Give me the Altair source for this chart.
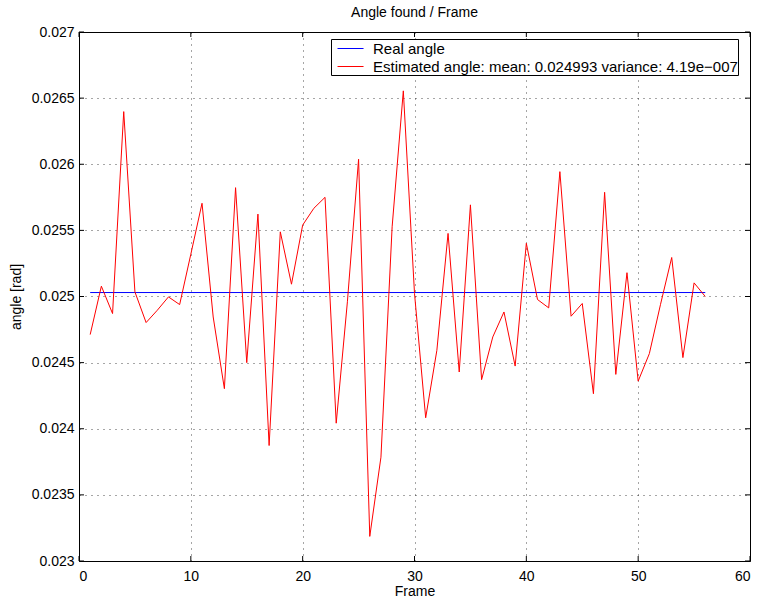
import altair as alt
import pandas as pd

# ---- data ----
frames = list(range(1, 57))
estimated = [
    0.024712, 0.025078, 0.024871, 0.026398, 0.025035, 0.024803, 0.024896, 0.024997, 0.024939, 0.025320,
    0.025705, 0.024845, 0.024303, 0.025823, 0.024500, 0.025623, 0.023873, 0.025489, 0.025093, 0.025540,
    0.025667, 0.025750, 0.024042, 0.024960, 0.026038, 0.023186, 0.023785, 0.025527, 0.026555, 0.025023,
    0.024083, 0.024593, 0.025477, 0.024429, 0.025693, 0.024371, 0.024694, 0.024883, 0.024474, 0.025402,
    0.024977, 0.024914, 0.025944, 0.024851, 0.024947, 0.024265, 0.025788, 0.024411, 0.025180, 0.024360,
    0.024568, 0.024941, 0.025295, 0.024538, 0.025103, 0.025000,
]
real_frames = [1, 56]
real_angle = [0.02503, 0.02503]

series_names = ["Real angle", "Estimated angle: mean: 0.024993 variance: 4.19e\u2212007"]
series_colors = ["#0000ff", "#ff0000"]

x_ticks = [0, 10, 20, 30, 40, 50, 60]
y_ticks = [0.023, 0.0235, 0.024, 0.0245, 0.025, 0.0255, 0.026, 0.0265, 0.027]

title_text = "Angle found / Frame"
x_title = "Frame"
y_title = "angle [rad]"

FONT = "Liberation Sans"
W, H = 671, 529

df = pd.concat([
    pd.DataFrame({"frame": real_frames, "angle": real_angle, "series": series_names[0]}),
    pd.DataFrame({"frame": frames, "angle": estimated, "series": series_names[1]}),
], ignore_index=True)

xscale = alt.Scale(domain=[x_ticks[0], x_ticks[-1]], nice=False, zero=False)
yscale = alt.Scale(domain=[y_ticks[0], y_ticks[-1]], nice=False, zero=False)
xaxis = alt.Axis(values=x_ticks, grid=True, ticks=False, domain=False,
                 labelPadding=8, titlePadding=1, format="d")
yaxis = alt.Axis(values=y_ticks, grid=True, ticks=False, domain=False,
                 labelPadding=5, titlePadding=8, format=".4~f")

lines = alt.Chart(df).mark_line(strokeWidth=1).encode(
    x=alt.X("frame:Q", scale=xscale, axis=xaxis, title=x_title),
    y=alt.Y("angle:Q", scale=yscale, axis=yaxis, title=y_title),
    color=alt.Color("series:N",
                    scale=alt.Scale(domain=series_names, range=series_colors),
                    legend=alt.Legend(title=None, orient="none", legendX=252, legendY=7,
                                      symbolType="M-0.33,0H2.56", symbolSize=324,
                                      symbolFillColor="transparent",
                                      symbolStrokeWidth=1, labelFontSize=15, labelFont=FONT,
                                      labelColor="black", strokeColor="black", fillColor="white",
                                      padding=0, rowPadding=0, labelOffset=23, labelLimit=1000)),
    detail="series:N",
    order="frame:Q",
)

xt = pd.DataFrame({"frame": x_ticks})
yt = pd.DataFrame({"angle": y_ticks})
TL = 5
tick_bottom = alt.Chart(xt).mark_rule(color="black", strokeWidth=1).encode(
    x=alt.X("frame:Q", scale=xscale, axis=xaxis, title=x_title), y=alt.value(H), y2=alt.value(H - TL))
tick_top = alt.Chart(xt).mark_rule(color="black", strokeWidth=1).encode(
    x=alt.X("frame:Q", scale=xscale, axis=xaxis, title=x_title), y=alt.value(0), y2=alt.value(TL))
tick_left = alt.Chart(yt).mark_rule(color="black", strokeWidth=1).encode(
    y=alt.Y("angle:Q", scale=yscale, axis=yaxis, title=y_title), x=alt.value(0), x2=alt.value(TL))
tick_right = alt.Chart(yt).mark_rule(color="black", strokeWidth=1).encode(
    y=alt.Y("angle:Q", scale=yscale, axis=yaxis, title=y_title), x=alt.value(W), x2=alt.value(W - TL))

chart = alt.layer(tick_bottom, tick_top, tick_left, tick_right, lines).properties(
    width=W, height=H,
    background="white",
    title=alt.TitleParams(title_text, font=FONT, fontSize=14, fontWeight="normal",
                          color="black", anchor="middle", offset=5),
    autosize=alt.AutoSizeParams(type="none"),
    padding={"left": 79, "top": 32, "right": 9, "bottom": 40},
).configure_view(
    stroke="black", strokeWidth=1
).configure_axis(
    labelFont=FONT, titleFont=FONT, labelFontSize=14, titleFontSize=14,
    labelColor="black", titleColor="black", titleFontWeight="normal",
    gridColor="black", gridOpacity=0.7, gridDash=[1, 5], gridWidth=1,
)

chart.save("out.html", embed_options={"renderer": "svg", "actions": False})
